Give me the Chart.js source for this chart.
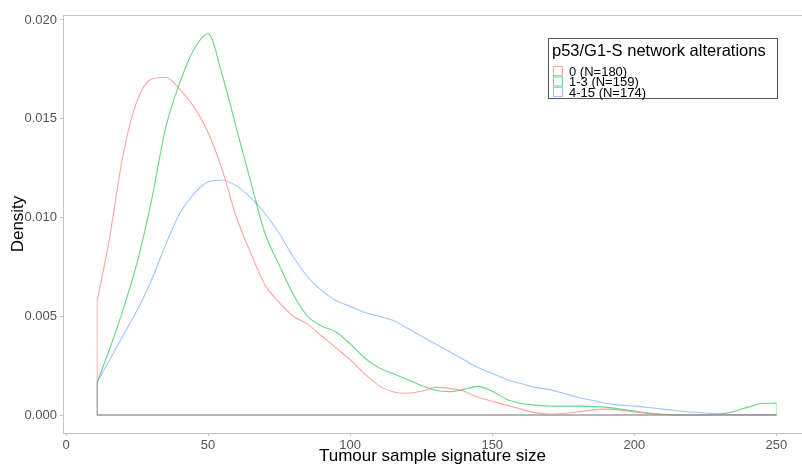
<!DOCTYPE html>
<html>
<head>
<meta charset="utf-8">
<script src="https://cdn.jsdelivr.net/npm/chart.js@4.4.1/dist/chart.umd.min.js"></script>
<style>
  html, body { margin: 0; padding: 0; background: #fff; }
  #wrap { width: 802px; height: 464px; position: relative; }
</style>
</head>
<body>
<div id="wrap"><canvas id="densityChart"></canvas></div>
<script>
// x grid (tumour sample signature size) and density
const signatureSize = [11, 15, 20, 25, 30, 35, 40, 45, 50, 55, 60, 65, 70, 75, 80, 85, 90, 95, 100, 105,
    110, 115, 120, 125, 130, 135, 140, 145, 150, 155, 160, 165, 170, 175, 180, 185, 190, 195, 200, 205,
    210, 215, 220, 225, 230, 235, 240, 245, 250];
const density0 = [0.0058, 0.0087, 0.0131, 0.0159, 0.0170, 0.0171, 0.0165, 0.0156, 0.0143, 0.0124,
    0.0100, 0.0082, 0.0066, 0.0057, 0.0050, 0.0046, 0.0040, 0.0034, 0.0028, 0.0021,
    0.0015, 0.00118, 0.0011, 0.0012, 0.0014, 0.00135, 0.0012, 0.0009, 0.0007, 0.0005,
    0.0003, 0.00012, 0.00005, 0.00008, 0.00015, 0.00025, 0.0003, 0.00025, 0.00015, 0.00008,
    0.00003, 0, 0, 0, 0, 0, 0, 0, 0];
const density1to3 = [0.00167, 0.0032, 0.0053, 0.0077, 0.0108, 0.0145, 0.0168, 0.0185, 0.0193, 0.0172,
    0.0145, 0.0118, 0.0092, 0.0076, 0.0061, 0.0050, 0.0045, 0.0042, 0.0036, 0.0029,
    0.0024, 0.0021, 0.0018, 0.0015, 0.00125, 0.00118, 0.0013, 0.00145, 0.0012, 0.0008,
    0.0006, 0.0005, 0.00046, 0.00045, 0.00045, 0.00043, 0.0004, 0.0003, 0.0002, 0.0001,
    0.00004, 0.00001, 0, 0, 0.00005, 0.00018, 0.0004, 0.00058, 0.0006];
const density4to15 = [0.00167, 0.0027, 0.0040, 0.0053, 0.0068, 0.0086, 0.0102, 0.0112, 0.0118, 0.0119,
    0.0116, 0.0110, 0.0102, 0.0092, 0.0080, 0.0070, 0.0063, 0.0058, 0.0055, 0.0052,
    0.0050, 0.0048, 0.0044, 0.0040, 0.0036, 0.0032, 0.0028, 0.0024, 0.0021, 0.0018,
    0.0016, 0.0014, 0.0013, 0.0011, 0.0009, 0.00075, 0.0006, 0.0005, 0.00045, 0.00038,
    0.0003, 0.00022, 0.00015, 0.0001, 0.00005, 0.00002, 0.00001, 0, 0];

const groupLabels = ['0 (N=180)', '1-3 (N=159)', '4-15 (N=174)'];
const groupColors = ['rgba(248, 118, 109, 0.65)', 'rgba(0, 186, 56, 0.6)', 'rgba(97, 156, 255, 0.6)'];
const edgeColors = ['rgba(248, 118, 109, 0.4)', 'rgba(0, 186, 56, 0.25)', 'rgba(97, 156, 255, 0.55)'];
const xTicks = [0, 50, 100, 150, 200, 250];
const yTicks = [0, 0.005, 0.01, 0.015, 0.02];

const font = '"Liberation Sans", Arial, sans-serif';

function curve(values, i) {
    return {
        label: groupLabels[i],
        data: signatureSize.map((x, k) => ({x: x, y: values[k]})),
        showLine: true,
        borderColor: groupColors[i],
        borderWidth: 1.1,
        pointRadius: 0,
        cubicInterpolationMode: 'monotone',
        fill: false
    };
}

// vertical ends and baseline of each density polygon
function outline(values, i) {
    const last = values.length - 1;
    return {
        label: groupLabels[i] + ' outline',
        data: [
            {x: signatureSize[0], y: values[0]},
            {x: signatureSize[0], y: 0},
            {x: signatureSize[last], y: 0},
            {x: signatureSize[last], y: values[last]}
        ],
        showLine: true,
        borderColor: edgeColors[i],
        borderWidth: 1.3,
        pointRadius: 0,
        tension: 0,
        fill: false
    };
}

const allDensities = [density0, density1to3, density4to15];

const panelExtras = {
    id: 'panelExtras',
    afterDraw(chart) {
        const {ctx, chartArea} = chart;
        ctx.save();
        // top edge of the panel
        ctx.strokeStyle = '#c4c4c4';
        ctx.lineWidth = 1;
        ctx.beginPath();
        ctx.moveTo(chartArea.left, chartArea.top + 0.5);
        ctx.lineTo(chartArea.right, chartArea.top + 0.5);
        ctx.stroke();

        // legend box
        ctx.fillStyle = '#fff';
        ctx.fillRect(548, 38, 229, 60);
        ctx.strokeStyle = '#555';
        ctx.strokeRect(548.5, 38.5, 229, 60);

        ctx.fillStyle = '#000';
        ctx.textBaseline = 'alphabetic';
        ctx.textAlign = 'left';
        ctx.font = '16.5px ' + font;
        ctx.fillText('p53/G1-S network alterations', 552, 56);

        ctx.font = '13px ' + font;
        groupLabels.forEach((lab, i) => {
            const y = 66 + i * 10.5;
            ctx.fillStyle = '#fff';
            ctx.fillRect(553.5, y + 0.5, 9, 9);
            ctx.strokeStyle = groupColors[i];
            ctx.strokeRect(553.5, y + 0.5, 9, 9);
            ctx.fillStyle = '#000';
            ctx.fillText(lab, 569, y + 9.5);
        });
        ctx.restore();
    }
};

const ctx = document.getElementById('densityChart').getContext('2d');
const densityChart = new Chart(ctx, {
    type: 'scatter',
    data: {
        datasets: allDensities.map(outline).concat(allDensities.map(curve))
    },
    options: {
        responsive: true,
        maintainAspectRatio: false,
        animation: false,
        layout: {
            padding: {top: 15, right: 0, left: 0, bottom: 0}
        },
        plugins: {
            legend: {display: false},
            tooltip: {enabled: false}
        },
        scales: {
            x: {
                type: 'linear',
                min: -1.06,
                max: 259,
                afterBuildTicks: scale => { scale.ticks = xTicks.map(v => ({value: v})); },
                afterFit: scale => { scale.height = 31; },
                ticks: {
                    color: '#555',
                    font: {family: font, size: 13},
                    padding: 2,
                    maxRotation: 0
                },
                grid: {
                    drawOnChartArea: false,
                    drawTicks: true,
                    tickLength: 3,
                    color: '#c4c4c4'
                },
                border: {color: '#c4c4c4'},
                title: {
                    display: true,
                    text: 'Tumour sample signature size',
                    color: '#000',
                    font: {family: font, size: 17},
                    padding: {top: 0, bottom: -3}
                }
            },
            y: {
                min: -0.00091,
                max: 0.02025,
                afterBuildTicks: scale => { scale.ticks = yTicks.map(v => ({value: v})); },
                afterFit: scale => { scale.width = 63; },
                ticks: {
                    color: '#555',
                    font: {family: font, size: 13},
                    padding: 3,
                    callback: v => v.toFixed(3)
                },
                grid: {
                    drawOnChartArea: false,
                    drawTicks: true,
                    tickLength: 3,
                    color: '#c4c4c4'
                },
                border: {color: '#c4c4c4'},
                title: {
                    display: true,
                    text: 'Density',
                    color: '#000',
                    font: {family: font, size: 17},
                    padding: {top: 8, bottom: 0}
                }
            }
        }
    },
    plugins: [panelExtras]
});
</script>
</body>
</html>
